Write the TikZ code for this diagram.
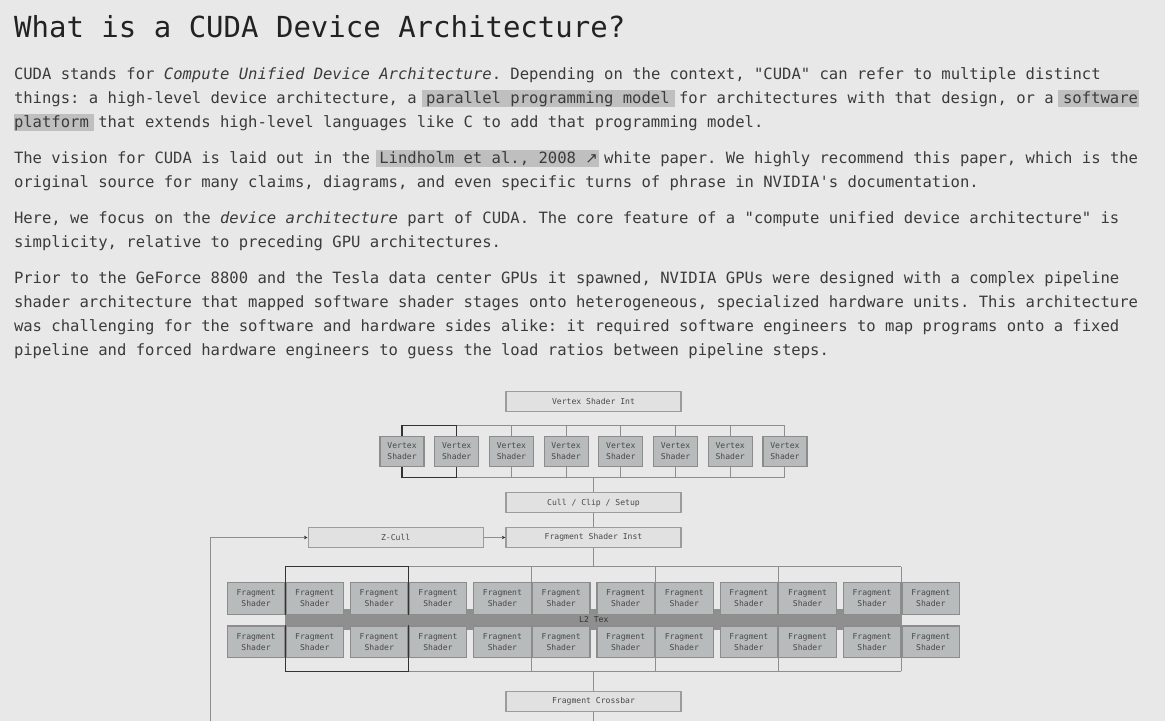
\documentclass[tikz,border=0pt]{standalone}
\usepackage{fontspec}
\newfontfamily\mono{DejaVu Sans Mono}
\newfontfamily\arrowfont{DejaVu Sans}
\usetikzlibrary{arrows.meta}
\definecolor{bg}{HTML}{E8E8E8}
\definecolor{hl}{HTML}{BFBFBF}
\definecolor{txt}{HTML}{3B3B3B}
\definecolor{ttl}{HTML}{222222}
\definecolor{bigfill}{HTML}{E1E1E1}
\definecolor{bigdraw}{HTML}{9C9C9C}
\definecolor{shfill}{HTML}{B8BBBB}
\definecolor{shdraw}{HTML}{8C8C8C}
\definecolor{wire}{HTML}{8E8E8E}
\definecolor{darkl}{HTML}{333333}
\definecolor{ltwo}{HTML}{8F8F8F}
\definecolor{dtxt}{HTML}{484848}
\begin{document}
\begin{tikzpicture}[x=1pt,y=-1pt,
  body/.style={anchor=base west,inner sep=0pt,outer sep=0pt,text=txt,font=\mono\fontsize{15.56}{24}\selectfont\frenchspacing},
  bigbox/.style={draw=bigdraw,line width=1.3pt,fill=bigfill,minimum width=175pt,minimum height=20pt,inner sep=0pt,text=dtxt,font=\mono\fontsize{8.1}{11}\selectfont},
  vbox/.style={draw=shdraw,line width=1.2pt,fill=shfill,minimum width=44pt,minimum height=30.5pt,inner sep=0pt,align=center,text=dtxt,font=\mono\fontsize{8.1}{11}\selectfont},
  fbox/.style={vbox,minimum width=57.5pt,minimum height=31.5pt},
  wireline/.style={draw=wire,line width=1pt},
  darkline/.style={draw=darkl,line width=1.1pt},
  tip/.style={-{Stealth[length=3.5pt,width=3.5pt,color=darkl]}}
]
\fill[bg] (0,0) rectangle (1165,721);
\useasboundingbox (0,0) rectangle (1165,721);
% highlights
\fill[hl] (421.5,89.5) rectangle (674.5,106.5);
\fill[hl] (1057.5,89.5) rectangle (1139,106.5);
\fill[hl] (14,113.5) rectangle (94,130.5);
\fill[hl] (376,149.5) rectangle (599,166.5);
% title
\node[anchor=base west,inner sep=0pt,text=ttl,font=\mono\fontsize{29}{34}\selectfont] (title) at (14,37) {What is a CUDA Device Architecture?};
% body
\node[body] (l1) at (14,79) {CUDA stands for {\itshape Compute Unified Device Architecture}. Depending on the context, "CUDA" can refer to multiple distinct};
\node[body] (l2) at (14,103) {things: a high-level device architecture, a parallel programming model for architectures with that design, or a software};
\node[body] (l3) at (14,127) {platform that extends high-level languages like C to add that programming model.};
\node[body] (l4) at (14,163) {The vision for CUDA is laid out in the Lindholm et al., 2008 \makebox[9.37pt][l]{\arrowfont\fontsize{15}{24}\selectfont ↗} white paper. We highly recommend this paper, which is the};
\node[body] (l5) at (14,187) {original source for many claims, diagrams, and even specific turns of phrase in NVIDIA's documentation.};
\node[body] (l6) at (14,223) {Here, we focus on the {\itshape device architecture} part of CUDA. The core feature of a "compute unified device architecture" is};
\node[body] (l7) at (14,247) {simplicity, relative to preceding GPU architectures.};
\node[body] (l8) at (14,283) {Prior to the GeForce 8800 and the Tesla data center GPUs it spawned, NVIDIA GPUs were designed with a complex pipeline};
\node[body] (l9) at (14,307) {shader architecture that mapped software shader stages onto heterogeneous, specialized hardware units. This architecture};
\node[body] (l10) at (14,331) {was challenging for the software and hardware sides alike: it required software engineers to map programs onto a fixed};
\node[body] (l11) at (14,355) {pipeline and forced hardware engineers to guess the load ratios between pipeline steps.};
% diagram: big boxes
\node[bigbox] (vsi) at (593.5,401.35) {Vertex Shader Int};
\node[bigbox] (cull) at (593.5,502.8) {Cull / Clip / Setup};
\node[bigbox] (zcull) at (395.65,537.5) {Z-Cull};
\node[bigbox] (fsi) at (593.5,537.5) {Fragment Shader Inst};
\node[bigbox] (xbar) at (593.5,701.5) {Fragment Crossbar};
% vertex shaders
\foreach \i in {0,...,7} \node[vbox] (v\i) at ({402+54.7*\i},451.5) {Vertex\\Shader};
\coordinate (vbt) at (593.3,425.7);
\coordinate (vbb) at (593.3,477.3);
\foreach \i in {2,...,7} {
  \draw[wireline] (v\i.north) -- (v\i.north |- vbt);
  \draw[wireline] (v\i.south) -- (v\i.south |- vbb);
}
\draw[wireline] (v1.north |- vbt) -- (v7.north |- vbt);
\draw[wireline] (v1.south |- vbb) -- (v7.south |- vbb);
\draw[darkline] (v0.north) -- (v0.north |- vbt) -- (v1.north |- vbt) -- (v1.north);
\draw[darkline] (v0.south) -- (v0.south |- vbb) -- (v1.south |- vbb) -- (v1.south);
\draw[wireline] (cull.north |- vbb) -- (cull.north);
\draw[wireline] (cull.south) -- (fsi.north);
% z-cull loop
\coordinate (loopb) at (210.7,721);
\draw[wireline,tip] (loopb) |- (zcull.west);
\draw[wireline,tip] (zcull.east) -- (fsi.west);
% L2 bar
\node[fill=ltwo,minimum width=617pt,minimum height=21.3pt,inner sep=0pt,text=darkl,font=\mono\fontsize{8.1}{11}\selectfont] (l2tex) at (593.8,619.65) {L2 Tex};
% fragment shaders
\foreach \j in {0,...,5} {
  \node[fbox] (fta\j) at ({256.05+123.2*\j},598.35) {Fragment\\Shader};
  \node[fbox] (ftb\j) at ({314.75+123.2*\j},598.35) {Fragment\\Shader};
  \node[fbox] (fba\j) at ({256.05+123.2*\j},641.65) {Fragment\\Shader};
  \node[fbox] (fbb\j) at ({314.75+123.2*\j},641.65) {Fragment\\Shader};
}
\coordinate (fbt) at (593.3,566.7);
\coordinate (fbb) at (593.3,671.3);
\draw[wireline] (fsi.south) -- (fsi.south |- fbt);
\foreach \j in {2,...,5} {
  \draw[wireline] (fta\j.north east |- fbt) -- (fta\j.north east);
  \draw[wireline] (fba\j.south east) -- (fba\j.south east |- fbb);
}
\draw[wireline] (fta1.north east |- fbt) -- (fta5.north east |- fbt);
\draw[wireline] (fba1.south east |- fbb) -- (fba5.south east |- fbb);
\draw[darkline] (fta0.south east) -- (fta0.north east) -- (fta0.north east |- fbt) -- (fta1.north east |- fbt) -- (fta1.north east) -- (fta1.south east);
\draw[darkline] (fba0.north east) -- (fba0.south east) -- (fba0.south east |- fbb) -- (fba1.south east |- fbb) -- (fba1.south east) -- (fba1.north east);
\draw[wireline] (xbar.north |- fbb) -- (xbar.north);
\draw[wireline] (xbar.south) -- (xbar.south |- loopb);
\end{tikzpicture}
\end{document}
